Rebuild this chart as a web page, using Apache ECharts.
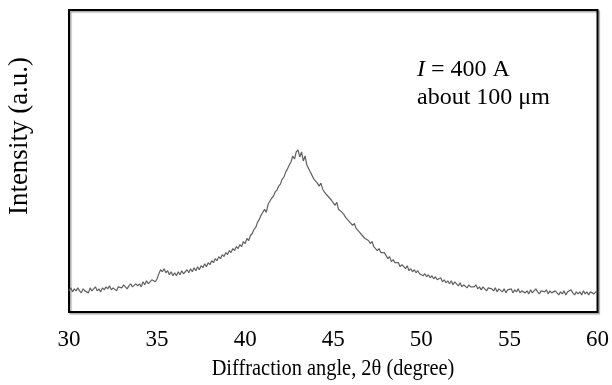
<!DOCTYPE html>
<html>
<head>
<meta charset="utf-8">
<title>XRD pattern</title>
<script src="https://cdn.jsdelivr.net/npm/echarts@6/dist/echarts.min.js"></script>
<style>
  html, body { margin: 0; padding: 0; background: #fff; }
  #chart { width: 612px; height: 385px; }
</style>
</head>
<body>
<div id="chart"></div>
<script>
"use strict";

// 2θ from 30 to 60 in 0.1° steps, intensity in arbitrary units
const ANGLE_START = 30;
const ANGLE_STEP = 0.1;
const INTENSITY = [
  21,24,20,23,21,24,21,19,23,21,        // 30.x
  22,19,24,21,22,25,21,23,20,24,        // 31.x
  22,25,23,26,22,24,23,21,25,24,        // 32.x
  24,27,25,23,26,28,25,24,28,26,        // 33.x
  28,25,30,27,31,28,27,32,33,30,        // 34.x
  33,38,42,40,43,39,41,37,40,36,        // 35.x
  39,36,40,37,41,38,37,42,39,43,        // 36.x
  40,44,41,45,42,46,44,48,45,49,        // 37.x
  47,51,49,53,51,55,53,57,55,59,        // 38.x
  57,61,59,63,61,65,63,67,65,70,        // 39.x
  68,73,71,76,78,82,84,89,92,96,        // 40.x
  97,102,99,107,106,113,115,119,121,125,// 41.x
  127,132,134,139,142,146,149,155,152,159, // 42.x
  161,154,159,150,155,146,145,139,138,132, // 43.x
  131,128,125,128,122,119,120,115,114,111, // 44.x
  110,106,109,102,102,99,97,94,93,90,   // 45.x
  90,86,88,83,81,79,77,78,73,72,        // 46.x
  71,68,70,65,65,61,63,59,58,59,        // 47.x
  56,53,55,50,52,49,48,49,45,47,        // 48.x
  45,43,46,41,43,40,42,39,41,38,        // 49.x
  39,36,38,35,37,34,36,33,35,32,        // 50.x
  32,34,30,32,29,31,28,31,27,30,        // 51.x
  28,26,29,25,27,28,24,27,25,25,        // 52.x
  25,27,23,25,22,25,24,21,24,23,        // 53.x
  23,21,24,20,23,22,20,23,19,22,        // 54.x
  21,23,19,22,20,23,19,21,22,19,        // 55.x
  21,18,22,19,21,23,20,18,21,20,        // 56.x
  20,22,18,21,19,18,21,20,17,20,        // 57.x
  18,21,17,20,19,22,19,17,20,18,        // 58.x
  20,17,21,18,20,17,20,21,18,20,        // 59.x
  20                                    // 60.0
];
const X_TICKS = [30, 35, 40, 45, 50, 55, 60];
const X_TITLE = "Diffraction angle, 2\u03b8 (degree)";
const Y_TITLE = "Intensity (a.u.)";
const NOTE_LINE1 = "400 A";
const NOTE_LINE2 = "about 100 \u03bcm";

const SERIF = "'Liberation Serif', 'Times New Roman', serif";
const points = INTENSITY.map((v, i) => [+(ANGLE_START + i * ANGLE_STEP).toFixed(1), v]);

const chart = echarts.init(document.getElementById("chart"), null, { renderer: "canvas" });
chart.setOption({
  animation: false,
  textStyle: { fontFamily: SERIF },
  grid: {
    left: 69, right: 14, top: 10, bottom: 73,
    show: true, borderColor: "#000", borderWidth: 2,
    shadowColor: "rgba(0,0,0,0.35)", shadowOffsetX: 1.5, shadowOffsetY: 1.5, shadowBlur: 1
  },
  xAxis: {
    type: "value", min: X_TICKS[0], max: X_TICKS[X_TICKS.length - 1], interval: 5,
    axisLine: { show: false }, axisTick: { show: false }, splitLine: { show: false },
    axisLabel: { color: "#000", fontSize: 23, margin: 16, fontFamily: SERIF }
  },
  yAxis: {
    type: "value", min: 0, max: 300,
    axisLine: { show: false }, axisTick: { show: false }, splitLine: { show: false },
    axisLabel: { show: false }
  },
  series: [{
    type: "line", data: points, showSymbol: false,
    lineStyle: { color: "#606060", width: 1.2 }
  }],
  graphic: [
    {
      // x-axis title: the original lettering is a little condensed
      type: "text", x: 333, y: 369, scaleX: 0.85,
      style: {
        text: X_TITLE, font: "24px " + SERIF, fill: "#000",
        align: "center", verticalAlign: "middle"
      }
    },
    {
      // y-axis title sits above the plot's middle in the original
      type: "text", x: 20, y: 136, rotation: Math.PI / 2,
      style: {
        text: Y_TITLE, font: "27px " + SERIF, fill: "#000",
        align: "center", verticalAlign: "middle"
      }
    },
    {
      type: "text", left: 417, top: 58,
      style: {
        text: "{i|I} = " + NOTE_LINE1,
        rich: { i: { fontStyle: "italic", fontFamily: SERIF, fontSize: 24, fill: "#000" } },
        font: "24px " + SERIF, fill: "#000"
      }
    },
    {
      type: "text", left: 417, top: 86,
      style: { text: NOTE_LINE2, font: "24px " + SERIF, fill: "#000" }
    }
  ]
});
</script>
</body>
</html>
